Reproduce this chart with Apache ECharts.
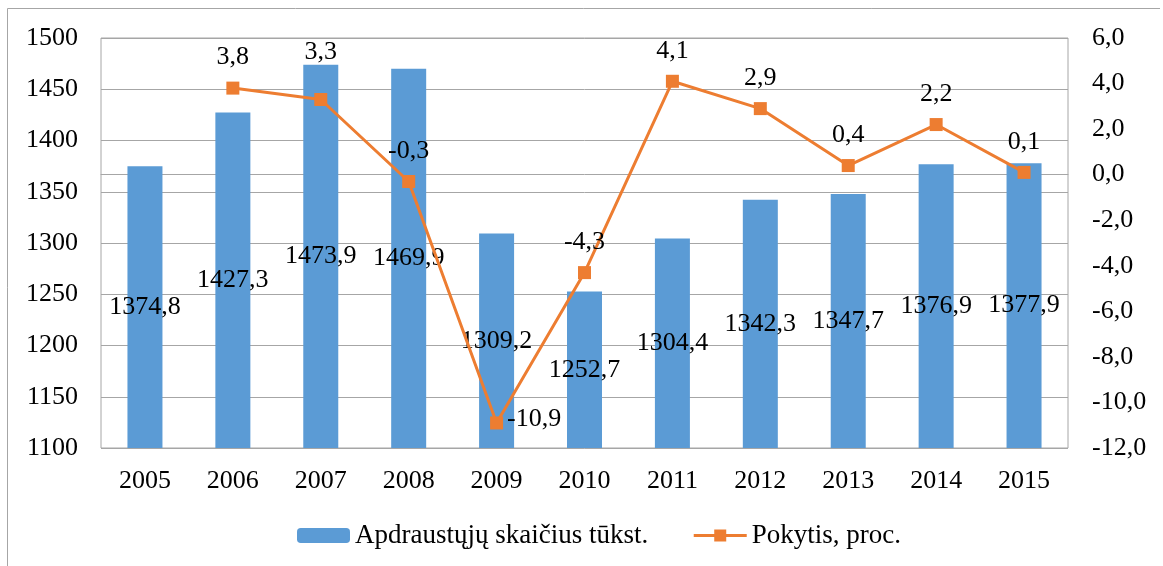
<!DOCTYPE html>
<html lang="lt">
<head>
    <meta charset="UTF-8">
    <title>Apdraustųjų skaičius</title>
    <script src="https://cdn.jsdelivr.net/npm/echarts@6/dist/echarts.min.js"></script>
    <style>
        html, body { margin: 0; padding: 0; background: #fff; }
    </style>
</head>
<body>
    <div id="main" style="width:1163px;height:566px;"></div>
    <script>
        // duomenys
        var years = ['2005', '2006', '2007', '2008', '2009', '2010', '2011', '2012', '2013', '2014', '2015'];
        var insured = [1374.8, 1427.3, 1473.9, 1469.9, 1309.2, 1252.7, 1304.4, 1342.3, 1347.7, 1376.9, 1377.9];
        var change = [null, 3.8, 3.3, -0.3, -10.9, -4.3, 4.1, 2.9, 0.4, 2.2, 0.1];
        var barName = 'Apdraustųjų skaičius tūkst.';
        var lineName = 'Pokytis, proc.';

        var font = '"Liberation Serif", "Times New Roman", serif';
        var fs = 26;

        function comma(v, d) {
            return (d == null ? String(v) : v.toFixed(d)).replace('.', ',');
        }

        // linijos taškai, kai kurių žymų vieta kitokia
        var lineData = change.map(function (v, i) {
            var item = { value: v };
            if (i === 4) {
                item.label = { position: 'right', distance: 4, offset: [0, -4] };
            } else if (i === 2) {
                item.label = { distance: 28 };
            }
            return item;
        });

        var myChart = echarts.init(document.getElementById('main'));

        myChart.setOption({
            animation: false,
            textStyle: { fontFamily: font },
            graphic: [
                { type: 'line', shape: { x1: 7.5, y1: 8.5, x2: 1160, y2: 8.5 }, style: { stroke: '#a6a6a6', lineWidth: 1 } },
                { type: 'line', shape: { x1: 7.5, y1: 8.5, x2: 7.5, y2: 566 }, style: { stroke: '#a6a6a6', lineWidth: 1 } }
            ],
            grid: {
                left: 101, right: 95, top: 38, bottom: 118,
                show: true, borderColor: '#a6a6a6', borderWidth: 1
            },
            legend: {
                top: 517,
                left: 292,
                itemWidth: 53,
                itemHeight: 15,
                itemGap: 44,
                lineStyle: { width: 3 },
                textStyle: { fontFamily: font, fontSize: 27, color: '#000' },
                data: [barName, lineName]
            },
            xAxis: {
                type: 'category',
                data: years,
                axisLine: { lineStyle: { color: '#a6a6a6' } },
                axisTick: { show: false },
                axisLabel: { fontFamily: font, fontSize: fs, color: '#000', margin: 20 }
            },
            yAxis: [{
                type: 'value',
                min: 1100, max: 1500, interval: 50,
                axisLine: { show: false },
                axisTick: { show: false },
                splitLine: { lineStyle: { color: '#a6a6a6' } },
                axisLabel: {
                    fontFamily: font, fontSize: fs, color: '#000', margin: 23,
                    formatter: function (v) { return String(v); }
                }
            }, {
                type: 'value',
                min: -12, max: 6, interval: 2,
                axisLine: { show: false },
                axisTick: { show: false },
                splitLine: { show: false },
                axisLabel: {
                    fontFamily: font, fontSize: fs, color: '#000', margin: 24,
                    formatter: function (v) { return comma(v, 1); }
                }
            }],
            series: [{
                name: barName,
                type: 'bar',
                data: insured,
                barWidth: 35,
                itemStyle: { color: '#5B9BD5' },
                label: {
                    show: true, position: 'inside',
                    fontFamily: font, fontSize: fs, color: '#000',
                    formatter: function (p) { return comma(p.value); }
                }
            }, {
                name: lineName,
                type: 'line',
                yAxisIndex: 1,
                data: lineData,
                symbol: 'rect',
                symbolSize: 13,
                connectNulls: false,
                lineStyle: { color: '#ED7D31', width: 3 },
                itemStyle: { color: '#ED7D31' },
                label: {
                    show: true, position: 'top', distance: 11,
                    fontFamily: font, fontSize: fs, color: '#000',
                    formatter: function (p) { return comma(p.value); }
                }
            }]
        });
    </script>
</body>
</html>
